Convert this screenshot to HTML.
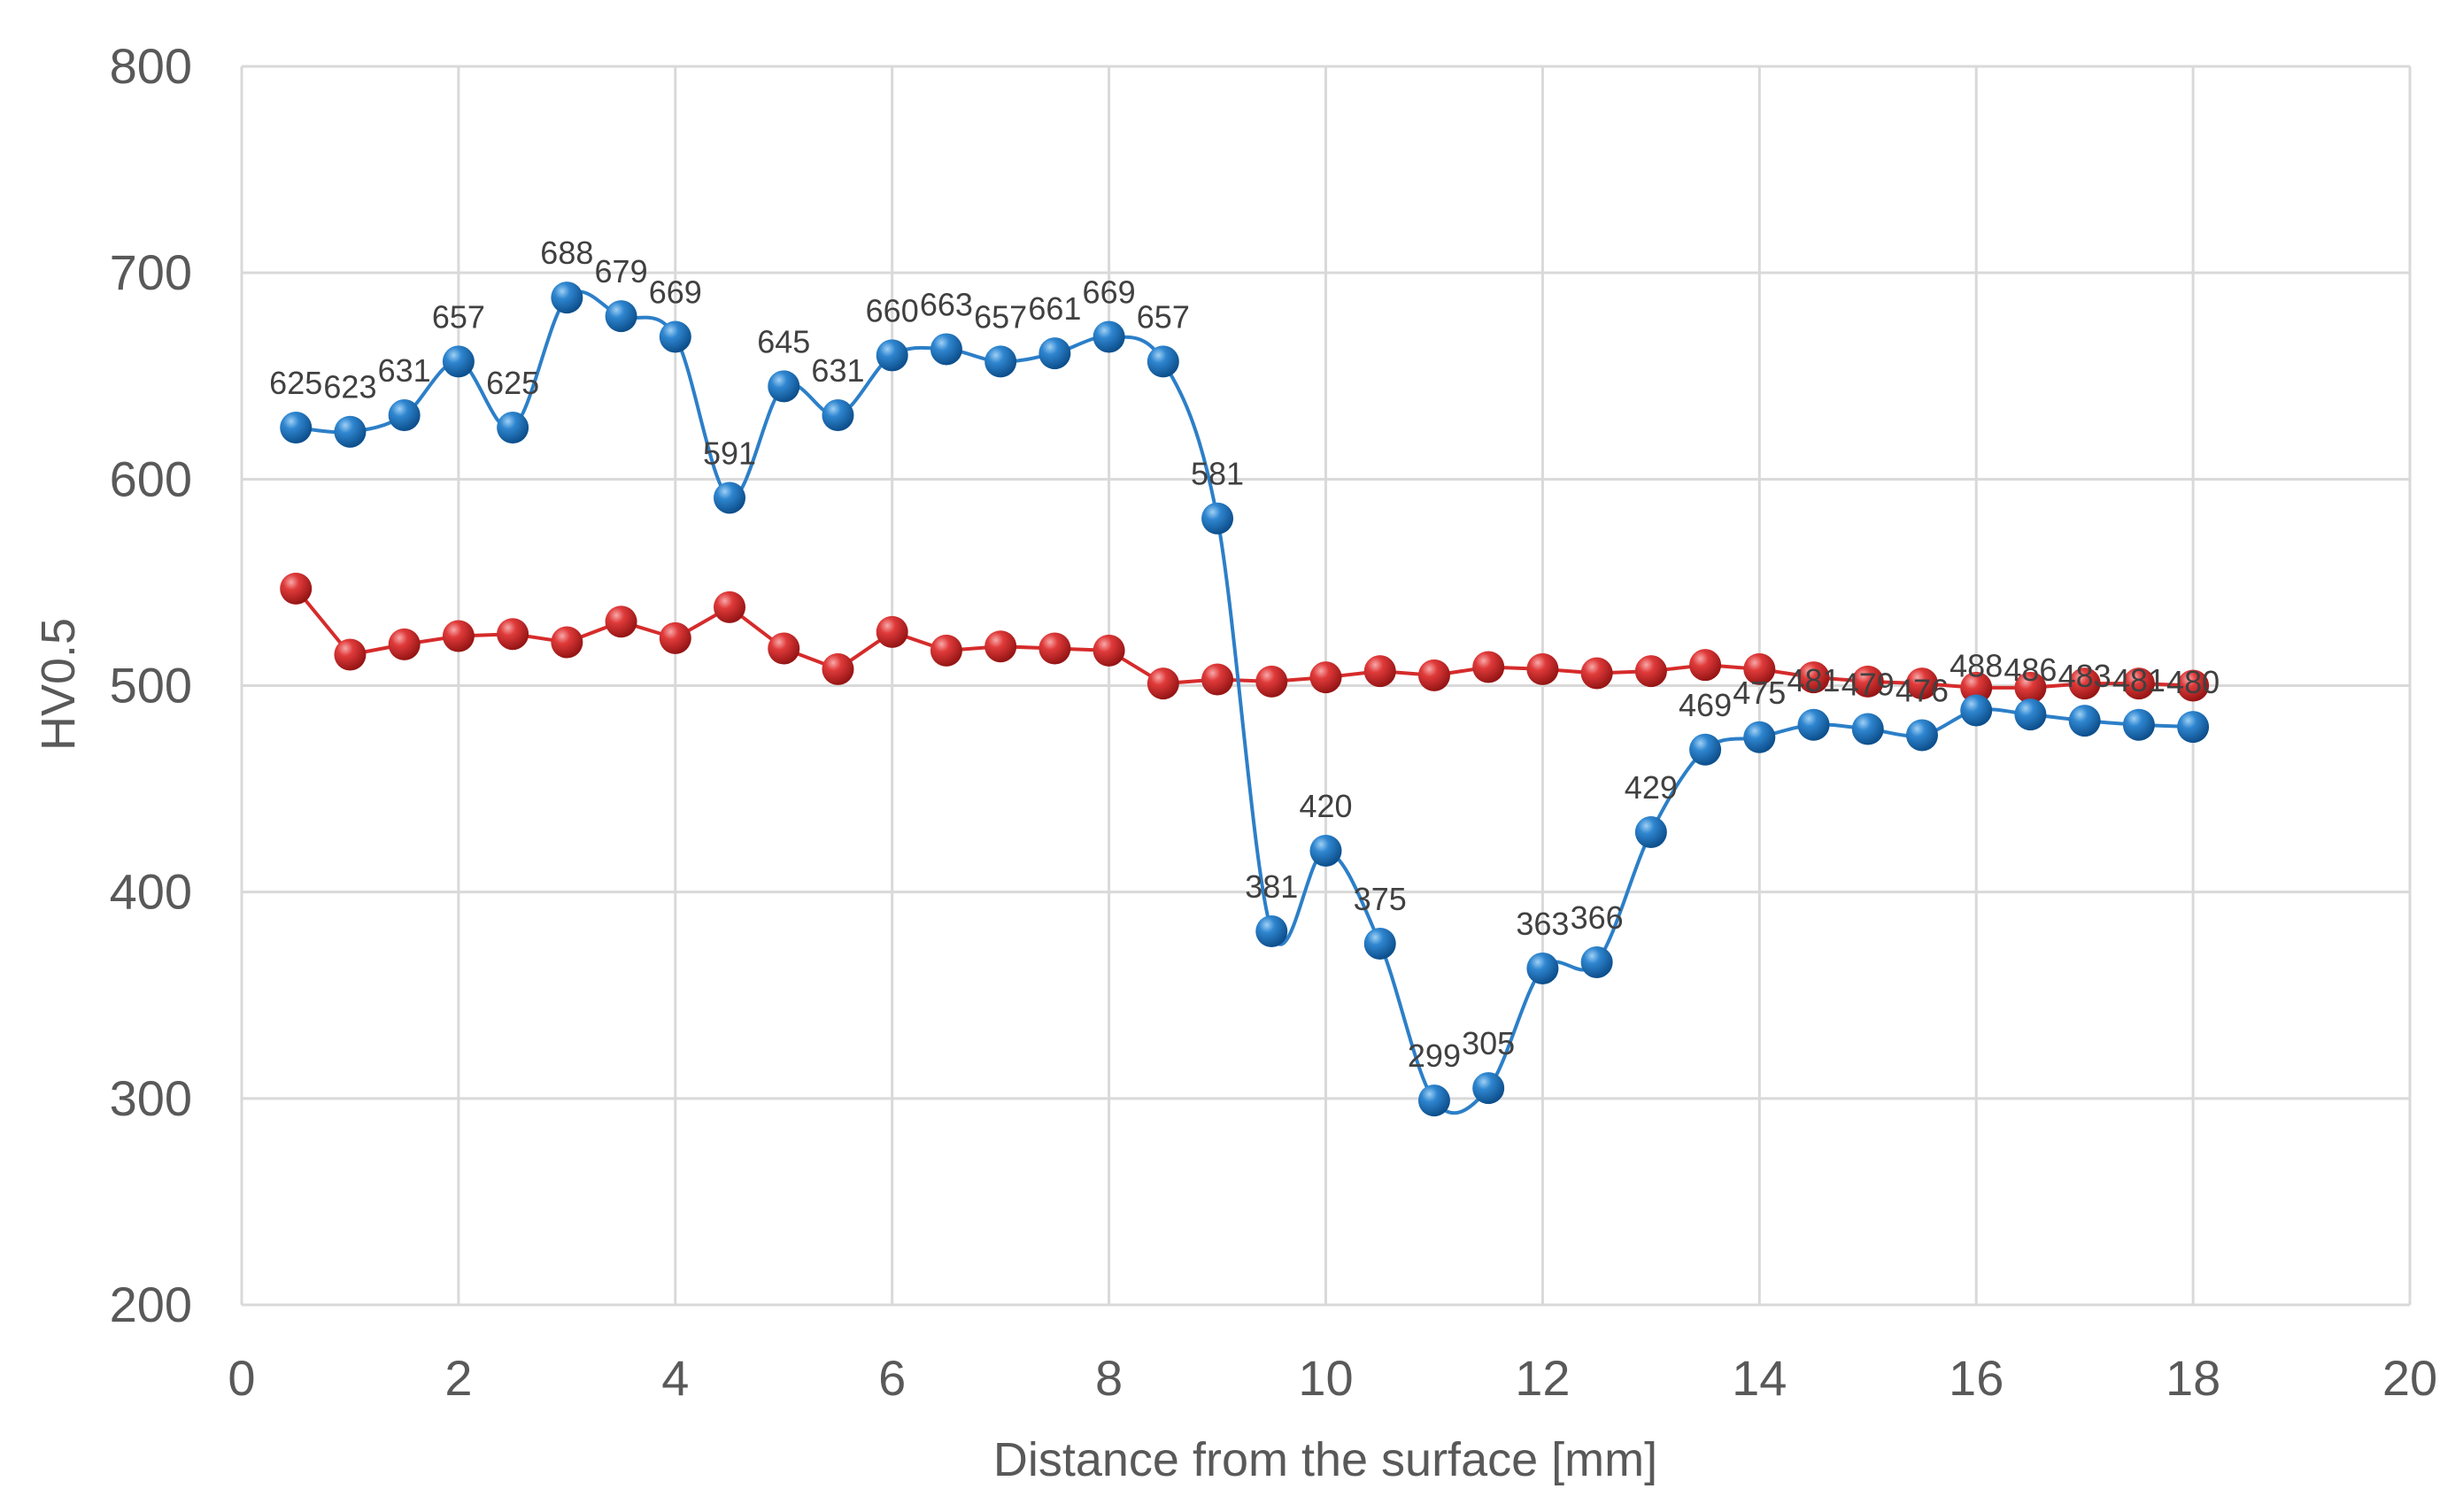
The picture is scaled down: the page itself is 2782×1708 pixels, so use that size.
<!DOCTYPE html>
<html><head><meta charset="utf-8"><style>
html,body{margin:0;padding:0;background:#fff;}
svg text{font-family:"Liberation Sans",sans-serif;}
</style></head><body>
<svg id="chart" width="2782" height="1703" xmlns="http://www.w3.org/2000/svg">
<defs>
<radialGradient id="gb" cx="35%" cy="30%" r="70%"><stop offset="0" stop-color="#9fd0f5"/><stop offset="0.35" stop-color="#2f86d0"/><stop offset="1" stop-color="#0d4f8c"/></radialGradient>
<radialGradient id="gr" cx="35%" cy="30%" r="70%"><stop offset="0" stop-color="#f7a9a9"/><stop offset="0.35" stop-color="#e03a3a"/><stop offset="1" stop-color="#961515"/></radialGradient>
</defs>
<g id="grid"></g>
<g id="axes"></g>
<g id="series"></g>
<text x="0" y="0" transform="translate(84,773) rotate(-90)" text-anchor="middle" font-size="54" fill="#595959">HV0.5</text>
<text x="1497" y="1667" text-anchor="middle" font-size="54" fill="#595959">Distance from the surface [mm]</text>
</svg>
<script>
const xTicks=[0,2,4,6,8,10,12,14,16,18,20];
const yTicks=[200,300,400,500,600,700,800];
const xs=[0.5,1,1.5,2,2.5,3,3.5,4,4.5,5,5.5,6,6.5,7,7.5,8,8.5,9,9.5,10,10.5,11,11.5,12,12.5,13,13.5,14,14.5,15,15.5,16,16.5,17,17.5,18];
const blue=[625,623,631,657,625,688,679,669,591,645,631,660,663,657,661,669,657,581,381,420,375,299,305,363,366,429,469,475,481,479,476,488,486,483,481,480];
const red=[547,515,520,524,525,521,531,523,538,518,508,526,517,519,518,517,501,503,502,504,507,505,509,508,506,507,510,508,504,502,501,499,499,501,501,500];
const L=273,R=2722,T=75,B=1474;
const sx=v=>L+(v-0)/(20-0)*(R-L);
const sy=v=>B-(v-200)/(800-200)*(B-T);
const NS="http://www.w3.org/2000/svg";
function mk(tag,attrs,parent){const e=document.createElementNS(NS,tag);for(const k in attrs)e.setAttribute(k,attrs[k]);parent.appendChild(e);return e;}
const grid=document.getElementById('grid'),axes=document.getElementById('axes'),ser=document.getElementById('series');
xTicks.forEach(t=>{
 const l=mk('line',{x1:sx(t),x2:sx(t),y1:T,y2:B,stroke:'#d9d9d9','stroke-width':3},grid);
 
 
 const tx=mk('text',{x:sx(t),y:1576,'text-anchor':'middle','font-size':56,fill:'#595959'},axes);
 tx.textContent=t;
 
 
});
yTicks.forEach(t=>{
 const l=mk('line',{x1:L,x2:R,y1:sy(t),y2:sy(t),stroke:'#d9d9d9','stroke-width':3},grid);
 
 
 const tx=mk('text',{x:217,y:sy(t)+19,'text-anchor':'end','font-size':56,fill:'#595959'},axes);
 tx.textContent=t;
 
 
});
function smooth(pts){let d=`M${pts[0][0]},${pts[0][1]}`;for(let i=0;i<pts.length-1;i++){const p0=pts[i-1]||pts[i],p1=pts[i],p2=pts[i+1],p3=pts[i+2]||p2;const k=0.5/3;d+=` C${p1[0]+(p2[0]-p0[0])*k},${p1[1]+(p2[1]-p0[1])*k} ${p2[0]-(p3[0]-p1[0])*k},${p2[1]-(p3[1]-p1[1])*k} ${p2[0]},${p2[1]}`;}return d;}
function draw(vals,color,grad,name,labels,sm){
 const pts=xs.map((x,i)=>[sx(x),sy(vals[i])]);
 const p=mk('path',{d:sm?smooth(pts):'M'+pts.map(q=>q.join(',')).join(' L'),fill:'none',stroke:color,'stroke-width':4},ser);
 
 
 pts.forEach((q,i)=>{
  const c=mk('circle',{cx:q[0],cy:q[1],r:18,fill:`url(#${grad})`},ser);
  
  
 });
 if(labels){pts.forEach((q,i)=>{
  const t=mk('text',{x:q[0],y:q[1]-38,'text-anchor':'middle','font-size':36,fill:'#404040'},ser);
  t.textContent=vals[i];
  
  
 });}
}
draw(red,'#d62b2b','gr','red-series',false,false);
draw(blue,'#2c7fc8','gb','blue-series',true,true);
</script>
</body></html>
